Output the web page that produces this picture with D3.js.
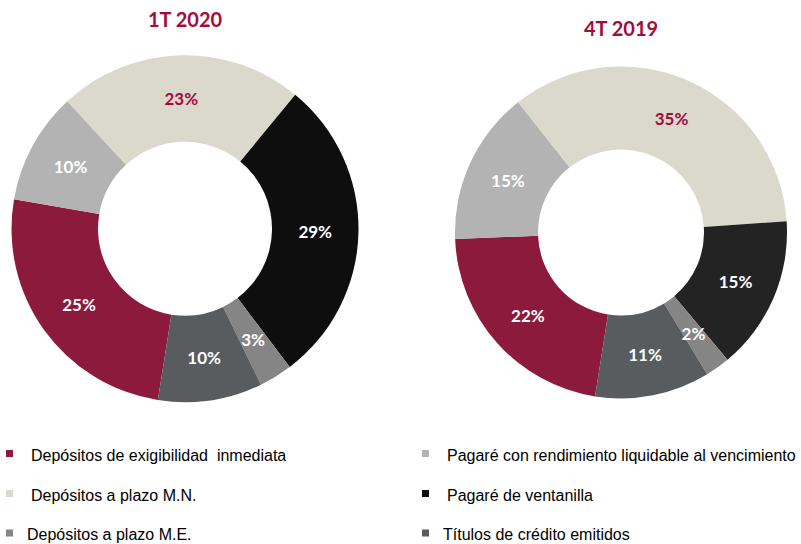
<!DOCTYPE html>
<html>
<head>
<meta charset="utf-8">
<script src="https://cdn.jsdelivr.net/npm/d3@7"></script>
<style>
  html, body { margin: 0; padding: 0; background: #fff; }
  svg { display: block; }
</style>
</head>
<body>
<svg id="chart" width="801" height="544"></svg>
<script>
// ---- data ----
const categories = [
  "Depósitos de exigibilidad  inmediata",
  "Pagaré con rendimiento liquidable al vencimiento",
  "Depósitos a plazo M.N.",
  "Pagaré de ventanilla",
  "Depósitos a plazo M.E.",
  "Títulos de crédito emitidos"
];
const periods = ["1T 2020", "4T 2019"];
const values1T2020 = [25.2, 10.4, 22.8, 28.7, 3.1, 9.7];
const values4T2019 = [21.9, 15.0, 34.6, 15.0, 2.4, 11.2];

// ---- styles ----
const sliceColorsLeft  = ["#8C1A3C", "#B3B3B3", "#DAD9CC", "#0E0E0E", "#858585", "#585C5F"];
const sliceColorsRight = ["#8C1A3C", "#B3B3B3", "#DAD9CC", "#232323", "#858585", "#585C5F"];
const legendColors     = ["#8C1A3C", "#B3B3B3", "#DAD9CC", "#111111", "#858585", "#585C5F"];
const labelColors      = ["#FFFFFF", "#FFFFFF", "#A50A3C", "#FFFFFF", "#FFFFFF", "#FFFFFF"];
const titleColor = "#A50A3C";

const svg = d3.select("#chart");

const charts = [
  { title: periods[0], values: values1T2020, colors: sliceColorsLeft,
    cx: 185, cy: 228.7, outer: 173.5, inner: 87, titleY: 26.5 },
  { title: periods[1], values: values4T2019, colors: sliceColorsRight,
    cx: 621, cy: 232.5, outer: 166, inner: 83, titleY: 35.5 }
];

const deg = Math.PI / 180;
const pie = d3.pie().sort(null).value(d => d)
  .startAngle(-171 * deg).endAngle(189 * deg);

charts.forEach(c => {
  const g = svg.append("g").attr("transform", `translate(${c.cx},${c.cy})`);
  const arc = d3.arc().innerRadius(c.inner).outerRadius(c.outer);
  const arcs = pie(c.values);
  g.selectAll("path.slice").data(arcs).join("path")
    .attr("class", "slice")
    .attr("d", arc)
    .attr("fill", (d, i) => c.colors[i]);
  g.selectAll("text.lbl").data(arcs).join("text")
    .attr("class", "lbl")
    .attr("transform", d => `translate(${arc.centroid(d)})`)
    .attr("text-anchor", "middle")
    .attr("dominant-baseline", "central")
    .style("font-family", "Lato, 'Open Sans', sans-serif")
    .style("font-weight", "700")
    .style("font-size", "17px")
    .attr("fill", (d, i) => labelColors[i])
    .text(d => Math.round(d.data) + "%");
  svg.append("text")
    .attr("x", c.cx)
    .attr("y", c.titleY)
    .attr("text-anchor", "middle")
    .style("font-family", "Lato, 'Open Sans', sans-serif")
    .style("font-weight", "700")
    .style("font-size", "20px")
    .attr("fill", titleColor)
    .text(c.title);
});

// ---- legend: 2 columns x 3 rows ----
const colX = [6, 422];
const rowY = [450, 490, 529.5];
const legend = svg.append("g");
categories.forEach((name, i) => {
  const col = i % 2, row = Math.floor(i / 2);
  const textDx = row === 2 ? 21 : 25;
  legend.append("rect")
    .attr("x", colX[col]).attr("y", rowY[row])
    .attr("width", 7).attr("height", 7)
    .attr("fill", legendColors[i]);
  legend.append("text")
    .attr("x", colX[col] + textDx)
    .attr("y", rowY[row] + 10.7)
    .style("font-family", "'Liberation Sans', Arial, sans-serif")
    .style("font-size", "16px")
    .style("white-space", "pre")
    .attr("fill", "#000")
    .text(name);
});
</script>
</body>
</html>
